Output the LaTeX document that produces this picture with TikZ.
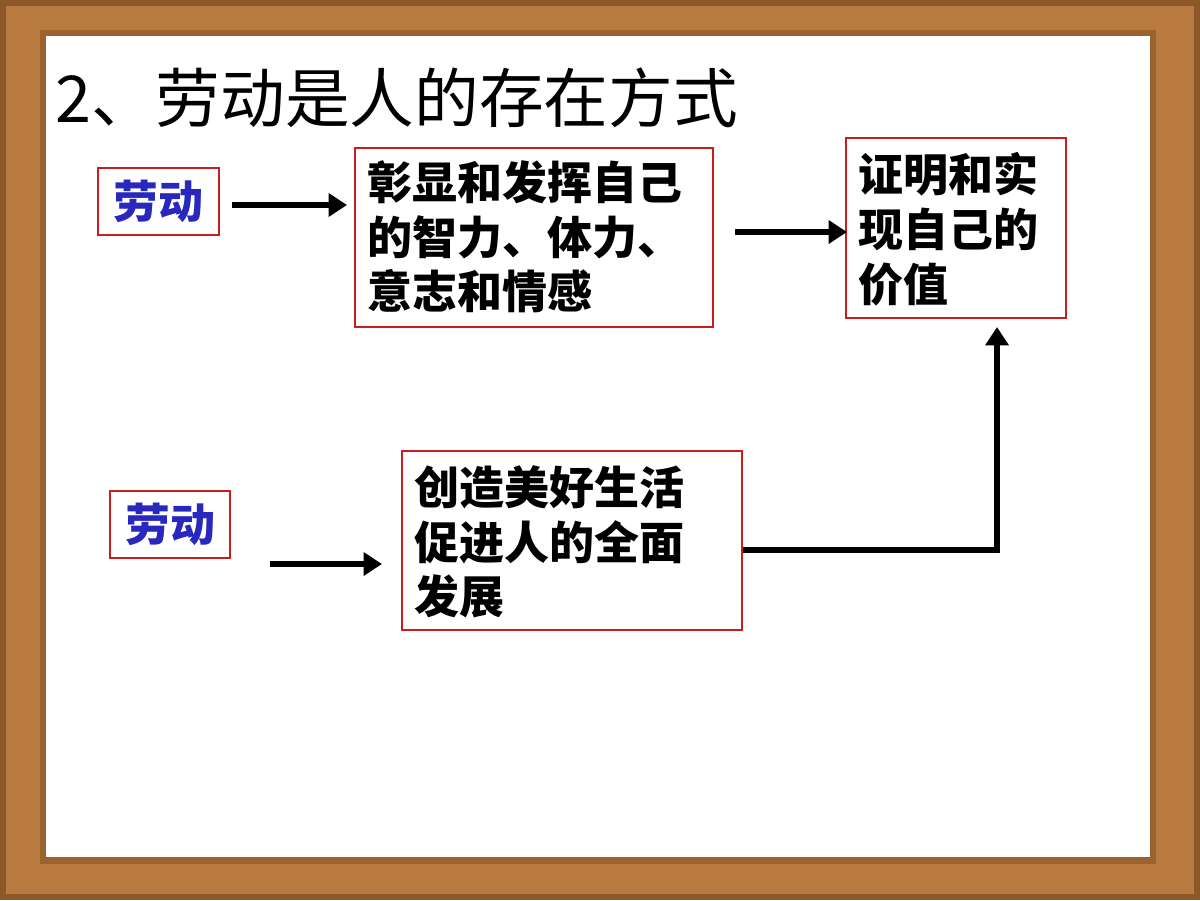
\documentclass[tikz,border=0pt]{standalone}
\usepackage{fontspec}
\newfontfamily\cjk{Noto Sans CJK SC}
\usetikzlibrary{arrows.meta}
\definecolor{wood}{RGB}{184,122,62}
\definecolor{wooddark}{RGB}{140,88,40}
\definecolor{boxred}{RGB}{200,30,30}
\definecolor{wordblue}{RGB}{40,40,190}
\tikzset{
  box/.style={draw=boxred,line width=0.9pt,fill=white},
  txt/.style={font=\cjk\fontsize{32}{39}\selectfont\bfseries,align=left},
  link/.style={line width=4pt,-{Triangle[length=13pt,width=16pt]}}
}
\begin{document}
\begin{tikzpicture}[x=0.025cm,y=-0.025cm]
\useasboundingbox (0,0) rectangle (1200,900);
% frame
\fill[wooddark] (0,0) rectangle (1200,900);
\fill[wood] (6,6) rectangle (1194,894);
\fill[wooddark!70!wood] (40,30) rectangle (1156,864);
\fill[white] (46,36) rectangle (1150,857);
% title
\node[anchor=west,font=\cjk\fontsize{46}{50}\selectfont,inner sep=0pt] (title) at (55,98) {2、劳动是人的存在方式};
% boxes
\draw[box] (98,168) rectangle (219,235) node[midway,txt,text=wordblue] (w1) {劳动};
\draw[box] (355,148) rectangle (713,327);
\node[txt,anchor=north west,inner sep=0pt] (b1) at (367,160) {彰显和发挥自己\\的智力、体力、\\意志和情感};
\draw[box] (846,138) rectangle (1066,318);
\node[txt,anchor=north west,inner sep=0pt] (b2) at (858,152) {证明和实\\现自己的\\价值};
\draw[box] (110,491) rectangle (230,558) node[midway,txt,text=wordblue] (w2) {劳动};
\draw[box] (402,451) rectangle (742,630);
\node[txt,anchor=north west,inner sep=0pt] (b3) at (414,465) {创造美好生活\\促进人的全面\\发展};
% arrows
\coordinate (a1) at (232,205); \coordinate (a2) at (347,205);
\coordinate (c1) at (735,232); \coordinate (c2) at (847,232);
\coordinate (d1) at (270,564); \coordinate (d2) at (382,564);
\coordinate (e1) at (743,550); \coordinate (e2) at (997,327);
\draw[link] (a1) -- (a2);
\draw[link] (c1) -- (c2);
\draw[link] (d1) -- (d2);
\draw[link] (e1) -| (e2);
\end{tikzpicture}
\end{document}
